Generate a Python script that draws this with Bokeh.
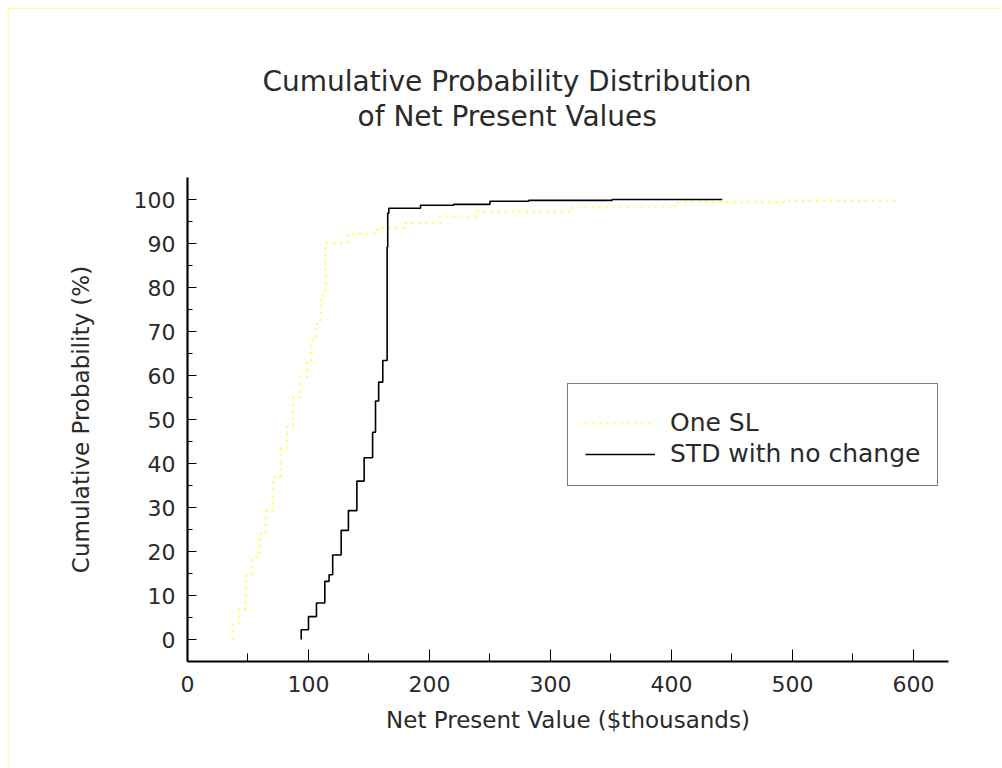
from bokeh.plotting import figure
from bokeh.models import Legend, LegendItem, FixedTicker, Range1d, Title
from bokeh.embed import file_html
from bokeh.resources import INLINE

# ---- data ----
# "STD with no change": x position of each step and cumulative % after it
std_x = [94, 94, 100, 106.6, 113.5, 117, 120, 127, 133, 140, 146, 153, 155.4, 158, 161.4,
         165.0, 165.5, 166.4, 192.6, 220, 250, 282, 351, 442]
std_y = [0, 2.2, 5.2, 8.3, 13.2, 14.7, 19.2, 24.8, 29.3, 36.0, 41.3, 47.1, 54.2, 58.5, 63.4,
         89.2, 96.9, 98.0, 98.7, 98.9, 99.6, 99.8, 100, 100]

# "One SL"
sl_x = [37.4, 37.4, 42.4, 48, 48, 53.5, 59.5, 65, 70.5, 76.9, 82.4, 87.3, 93.4, 98.9, 102.5,
        105.8, 110, 114, 132, 156.8, 179, 209, 239.4, 318, 403, 495, 587]
sl_y = [0, 3.6, 7.0, 9.6, 14.5, 18.7, 24.0, 29.3, 36.9, 43.3, 48.3, 55.1, 59.6, 63.4, 68.0,
        71.7, 78.2, 90.1, 92.2, 93.5, 94.6, 96.2, 97.3, 98.2, 99.4, 99.7, 99.9]

x_ticks = [0, 100, 200, 300, 400, 500, 600]
x_minor = [50, 150, 250, 350, 450, 550]
y_ticks = [0, 10, 20, 30, 40, 50, 60, 70, 80, 90, 100]
y_minor = [5, 15, 25, 35, 45, 55, 65, 75, 85, 95]

title_lines = ["Cumulative Probability Distribution", "of Net Present Values"]
series_names = ["One SL", "STD with no change"]

FONT = "DejaVu Sans"
TXT = "#2a2a2a"
YELLOW = "#ffff3c"

p = figure(width=993, height=759, output_backend="svg", toolbar_location=None,
           x_range=Range1d(0, 629), y_range=Range1d(-5, 105),
           min_border_left=178, min_border_right=54, min_border_top=168, min_border_bottom=107)
p.styles = {"margin-left": "8px", "margin-top": "8px",
            "border-top": "1px solid #ffff88", "border-left": "1px solid #ffff88"}
p.outline_line_color = None
p.grid.grid_line_color = None
p.background_fill_color = "white"
p.border_fill_color = "white"

r_sl = p.step(sl_x, sl_y, mode="after", line_color=YELLOW, line_width=2, line_dash="2 5")
r_std = p.step(std_x, std_y, mode="after", line_color="black", line_width=1.6)

# axes
for ax in (p.xaxis[0], p.yaxis[0]):
    ax.axis_line_width = 2.2
    ax.axis_line_color = "black"
    ax.major_tick_line_color = "black"
    ax.minor_tick_line_color = "black"
    ax.major_tick_out = 0
    ax.minor_tick_out = 0
    ax.major_label_text_font = FONT
    ax.major_label_text_color = TXT
    ax.axis_label_text_font = FONT
    ax.axis_label_text_color = TXT
    ax.axis_label_text_font_style = "normal"

p.xaxis.ticker = FixedTicker(ticks=x_ticks, minor_ticks=x_minor)
p.yaxis.ticker = FixedTicker(ticks=y_ticks, minor_ticks=y_minor)
p.xaxis.major_tick_in = 12
p.xaxis.minor_tick_in = 8
p.yaxis.major_tick_in = 9
p.yaxis.minor_tick_in = 5
p.xaxis.major_label_text_font_size = "22px"
p.yaxis.major_label_text_font_size = "22px"
p.xaxis.major_label_standoff = 14
p.yaxis.major_label_standoff = 12
p.xaxis.axis_label = "Net Present Value ($thousands)"
p.yaxis.axis_label = "Cumulative Probability (%)"
p.xaxis.axis_label_text_font_size = "23px"
p.yaxis.axis_label_text_font_size = "23px"
p.xaxis.axis_label_standoff = 12
p.yaxis.axis_label_standoff = 37

# title: two left-aligned lines with offsets (first added sits closest to the frame)
p.add_layout(Title(text=" ", text_font_size="30px", align="left"), "above")
p.add_layout(Title(text=title_lines[1], align="left", offset=170, standoff=0, text_font=FONT,
                   text_font_size="28px", text_font_style="normal", text_color=TXT), "above")
p.add_layout(Title(text=title_lines[0], align="left", offset=75, standoff=0, text_font=FONT,
                   text_font_size="28px", text_font_style="normal", text_color=TXT), "above")

legend = Legend(items=[LegendItem(label=series_names[0], renderers=[r_sl]),
                       LegendItem(label=series_names[1], renderers=[r_std])],
                location=(380, 175), title=" ", title_text_font_size="5px", title_standoff=1,
                padding=17, spacing=2, glyph_width=70, glyph_height=24, label_height=24,
                label_standoff=15, label_text_font=FONT, label_text_font_size="25px",
                label_text_color=TXT, border_line_color="black", border_line_width=1,
                background_fill_alpha=1, margin=0)
p.add_layout(legend, "center")

open("out.html", "w").write(file_html(p, INLINE))
